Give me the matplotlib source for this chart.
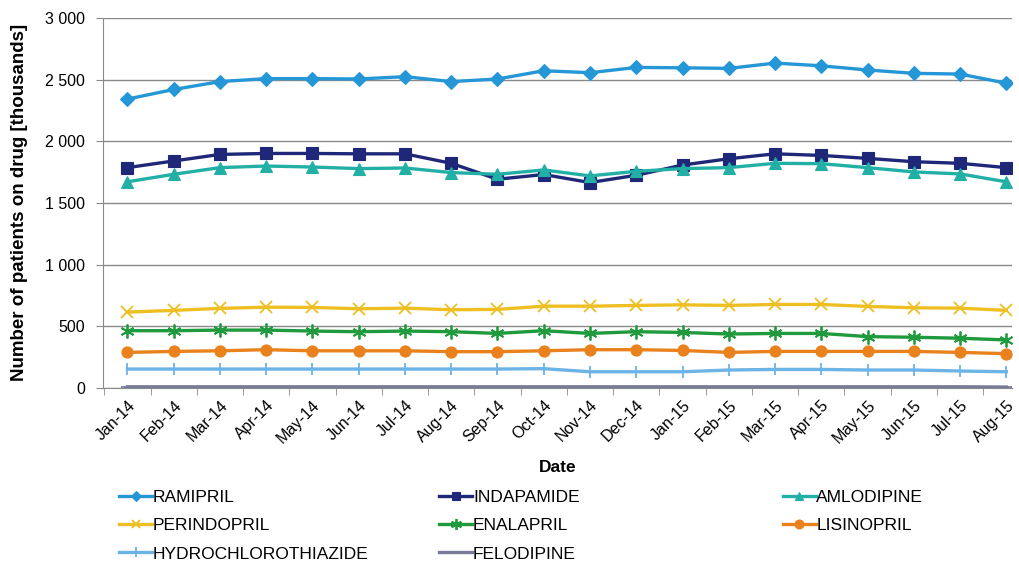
import matplotlib
matplotlib.use("Agg")
import matplotlib.pyplot as plt
from matplotlib.ticker import FuncFormatter, MultipleLocator, FixedLocator

plt.rcParams["font.family"] = ["Liberation Sans", "DejaVu Sans"]

months = ["Jan-14", "Feb-14", "Mar-14", "Apr-14", "May-14", "Jun-14", "Jul-14",
          "Aug-14", "Sep-14", "Oct-14", "Nov-14", "Dec-14", "Jan-15", "Feb-15",
          "Mar-15", "Apr-15", "May-15", "Jun-15", "Jul-15", "Aug-15"]

ramipril = [2342, 2420, 2484, 2508, 2508, 2505, 2524, 2484, 2505, 2572,
            2556, 2599, 2596, 2591, 2634, 2612, 2578, 2551, 2545, 2471]
indapamide = [1786, 1840, 1893, 1901, 1901, 1898, 1898, 1821, 1692, 1730,
              1665, 1724, 1807, 1858, 1898, 1885, 1861, 1834, 1821, 1786]
amlodipine = [1671, 1732, 1786, 1799, 1791, 1778, 1783, 1746, 1732, 1767,
              1719, 1756, 1778, 1786, 1821, 1818, 1786, 1751, 1735, 1671]
perindopril = [614, 628, 644, 654, 652, 641, 646, 633, 636, 662,
               662, 668, 673, 668, 676, 676, 660, 649, 646, 628]
enalapril = [463, 463, 468, 468, 460, 455, 460, 455, 441, 463,
             441, 455, 449, 436, 441, 441, 415, 410, 402, 388]
lisinopril = [287, 295, 300, 309, 300, 300, 300, 293, 293, 300,
              309, 309, 303, 287, 295, 295, 295, 295, 287, 277]
hctz = [152, 152, 152, 152, 152, 152, 152, 152, 152, 155,
        130, 130, 130, 144, 149, 149, 144, 144, 136, 130]
felodipine = [8, 8, 8, 8, 8, 8, 8, 8, 8, 8,
              8, 8, 8, 8, 8, 8, 8, 8, 8, 6]

series = [
    ("RAMIPRIL", ramipril, "#2596d6", "D", 7),
    ("INDAPAMIDE", indapamide, "#1f2878", "s", 8),
    ("AMLODIPINE", amlodipine, "#22b0a6", "^", 8),
    ("PERINDOPRIL", perindopril, "#eebf23", "x", 8),
    ("ENALAPRIL", enalapril, "#1f9a3c", (6, 2, 0), 10),
    ("LISINOPRIL", lisinopril, "#e9821d", "o", 8),
    ("HYDROCHLOROTHIAZIDE", hctz, "#6cb3e6", "|", 9),
    ("FELODIPINE", felodipine, "#777b98", "_", 8),
]

fig = plt.figure(figsize=(10.19, 5.62), dpi=100)
ax = fig.add_axes([0.101, 0.310, 0.892, 0.658])

x = list(range(len(months)))
handles = []
for name, vals, col, mk, ms in series:
    thin = mk in ("x", "|", "_") or isinstance(mk, tuple)
    h, = ax.plot(x, vals, color=col, lw=2.4, marker=mk, markersize=ms,
                 markeredgewidth=1.3 if thin else 0.8,
                 markeredgecolor=col, markerfacecolor=col, label=name, zorder=3)
    handles.append(h)

ax.set_xlim(-0.53, 19.12)
ax.set_ylim(0, 3000)
ax.yaxis.set_major_locator(MultipleLocator(500))
ax.yaxis.set_major_formatter(FuncFormatter(lambda v, p: f"{int(v):,}".replace(",", " ")))
ax.grid(axis="y", color="#8a8a8a", lw=1)
ax.set_axisbelow(True)

ax.set_xticks(x)
ax.set_xticklabels(months, rotation=45, ha="right", rotation_mode="anchor", fontsize=11.5)
ax.xaxis.set_minor_locator(FixedLocator([i - 0.5 for i in range(len(months))]))
ax.tick_params(axis="x", which="major", length=0, pad=7)
ax.tick_params(axis="x", which="minor", length=5, color="#8a8a8a")
ax.tick_params(axis="y", length=5, color="#8a8a8a", labelsize=11.5, pad=8)

for s in ("top", "right"):
    ax.spines[s].set_visible(False)
for s in ("left", "bottom"):
    ax.spines[s].set_color("#8a8a8a")

ax.set_ylabel("Number of patients on drug [thousands]", fontsize=13.5,
              fontweight="bold", labelpad=12)
ax.set_xlabel("Date", fontsize=12.5, fontweight="bold", labelpad=10)

# three single-column legends, placed like the Excel legend
cols = [[0, 3, 6], [1, 4, 7], [2, 5]]
col_x = [0.117, 0.431, 0.768]
for idx, cx in zip(cols, col_x):
    fig.legend([handles[i] for i in idx], [series[i][0] for i in idx],
               loc="upper left", bbox_to_anchor=(cx, 0.128),
               frameon=False, fontsize=12.5, handlelength=1.9, handletextpad=0.05,
               markerscale=0.8, labelspacing=0.75, borderpad=0, borderaxespad=0)

fig.savefig("out.png", dpi=100)
